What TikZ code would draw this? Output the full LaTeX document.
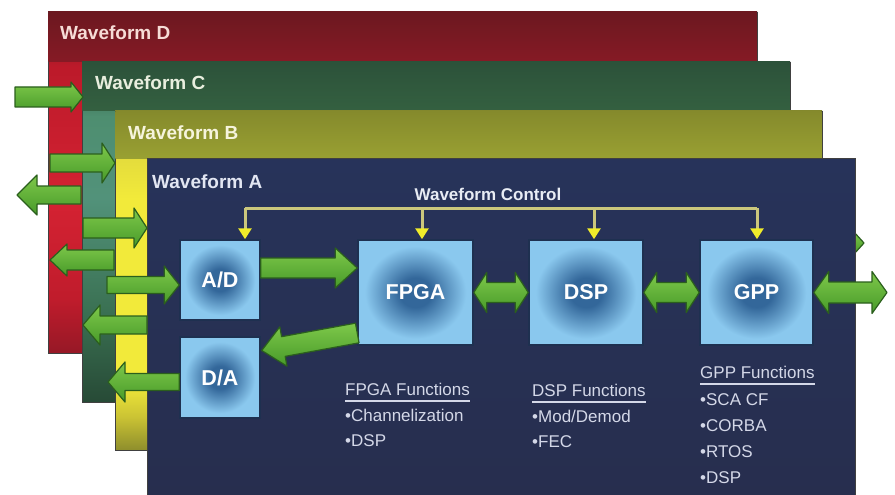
\documentclass[tikz,border=0pt]{standalone}
\usepackage{fontspec}
\setmainfont{Liberation Sans}
\usetikzlibrary{calc,arrows.meta}
\definecolor{boxdark}{HTML}{33679A}
\definecolor{boxlight}{HTML}{8AC8EE}
\definecolor{blkline}{HTML}{1E3050}
\definecolor{grtop}{HTML}{7EC84A}
\definecolor{grbot}{HTML}{479A29}
\definecolor{grline}{HTML}{2B5F1D}
\definecolor{busc}{HTML}{CBC77C}
\definecolor{ctrlhead}{HTML}{F0EC2A}
\definecolor{functext}{HTML}{D4D8E8}
% waveform colours
\definecolor{dA}{HTML}{961826}\definecolor{dB}{HTML}{C01C2C}\definecolor{dC}{HTML}{D42232}\definecolor{dD}{HTML}{BC1A2A}\definecolor{dE}{HTML}{6C1820}
\definecolor{cA}{HTML}{274A36}\definecolor{cB}{HTML}{3A7052}\definecolor{cC}{HTML}{52927A}\definecolor{cD}{HTML}{4E8E70}\definecolor{cE}{HTML}{2C523A}
\definecolor{bA}{HTML}{8E8E2C}\definecolor{bB}{HTML}{CCC434}\definecolor{bC}{HTML}{F2EA3A}\definecolor{bD}{HTML}{E4DC3C}\definecolor{bE}{HTML}{858A2C}
\pgfdeclareverticalshading{shD}{100bp}{color(0bp)=(dA); color(25bp)=(dA); color(33bp)=(dB); color(47bp)=(dC); color(67bp)=(dD); color(75bp)=(dE); color(100bp)=(dE)}
\pgfdeclareverticalshading{shC}{100bp}{color(0bp)=(cA); color(25bp)=(cA); color(38bp)=(cB); color(55bp)=(cC); color(67bp)=(cD); color(75bp)=(cE); color(100bp)=(cE)}
\pgfdeclareverticalshading{shB}{100bp}{color(0bp)=(bA); color(25bp)=(bA); color(30bp)=(bB); color(35bp)=(bC); color(62bp)=(bC); color(68bp)=(bD); color(75bp)=(bE); color(100bp)=(bE)}
\pgfdeclareradialshading{boxshade}{\pgfpoint{0bp}{0bp}}{color(0bp)=(boxdark); color(7bp)=(boxdark); color(22bp)=(boxlight); color(50bp)=(boxlight)}
\newcommand{\grarrow}[5]{%
  \coordinate (tmpH) at ($(#2)!#5!(#1)$);
  \path[garrow] ($(#1)!#3!90:(#2)$) -- ($(tmpH)!#3!90:(#2)$) -- ($(tmpH)!#4!90:(#2)$) -- (#2)
    -- ($(tmpH)!#4!-90:(#2)$) -- ($(tmpH)!#3!-90:(#2)$) -- ($(#1)!#3!-90:(#2)$) -- cycle;}
\newcommand{\grdarrow}[5]{%
  \coordinate (tmpA) at ($(#1)!#5!(#2)$);
  \coordinate (tmpB) at ($(#2)!#5!(#1)$);
  \path[garrow] (#1) -- ($(tmpA)!#4!90:(#2)$) -- ($(tmpA)!#3!90:(#2)$) -- ($(tmpB)!#3!90:(#2)$)
    -- ($(tmpB)!#4!90:(#2)$) -- (#2) -- ($(tmpB)!#4!-90:(#2)$) -- ($(tmpB)!#3!-90:(#2)$)
    -- ($(tmpA)!#3!-90:(#2)$) -- ($(tmpA)!#4!-90:(#2)$) -- cycle;}
\tikzset{
  garrow/.style={top color=grtop, bottom color=grbot, draw=grline, line width=1.2pt, line join=round},
  blk/.style={draw=blkline, line width=1.5pt, shading=boxshade, text=white, inner sep=0pt,
    font=\bfseries\fontsize{21.5}{24}\selectfont},
  wflabel/.style={anchor=west, inner sep=0pt, font=\bfseries\fontsize{19}{22}\selectfont},
  functxt/.style={anchor=base west, inner sep=0pt, text=functext, font=\fontsize{17}{20}\selectfont},
  uline/.style={draw=functext, line width=1.1pt},
  busline/.style={draw=busc, line width=3pt},
  wfbox/.style={draw=black!75, line width=0.8pt},
}
\begin{document}
\begin{tikzpicture}[x=1pt,y=-1pt]
\useasboundingbox (0,0) rectangle (895,495);
\fill[white] (0,0) rectangle (895,495);
% Waveform D
\shade[wfbox, shading=shD] (48,12) rectangle (757,353);
\shade[top color={rgb,255:red,108;green,24;blue,32}, bottom color={rgb,255:red,134;green,26;blue,37}] (48.4,12.4) rectangle (756.6,62);
\node[wflabel, text={rgb,255:red,246;green,220;blue,214}] (lD) at (60,33) {Waveform D};
% Waveform C
\shade[wfbox, shading=shC] (82,62) rectangle (790,402);
\shade[top color={rgb,255:red,44;green,82;blue,58}, bottom color={rgb,255:red,52;green,96;blue,64}] (82.4,62.4) rectangle (789.6,111);
\node[wflabel, text={rgb,255:red,232;green,238;blue,222}] (lC) at (95,83) {Waveform C};
% Waveform B
\shade[wfbox, shading=shB] (115,111) rectangle (822,450);
\shade[top color={rgb,255:red,133;green,138;blue,44}, bottom color={rgb,255:red,153;green,160;blue,50}] (115.4,111.4) rectangle (821.6,158);
\node[wflabel, text={rgb,255:red,246;green,244;blue,220}] (lB) at (128,133) {Waveform B};
% hidden arrow tip behind A
\coordinate (g9a) at (830,243); \coordinate (g9b) at (864,243);
\grarrow{g9a}{g9b}{6pt}{11pt}{10pt}
% Waveform A
\shade[wfbox, top color={rgb,255:red,39;green,51;blue,90}, middle color={rgb,255:red,88;green,102;blue,154}, bottom color={rgb,255:red,39;green,46;blue,78}] (147,158) rectangle (855,500);
\node[wflabel, text={rgb,255:red,226;green,230;blue,242}] (lA) at (152,182) {Waveform A};
% blocks
\node[blk, minimum width=80pt, minimum height=80pt] (ad) at (220,280) {A/D};
\node[blk, minimum width=80pt, minimum height=81pt] (da) at (220,377.5) {D/A};
\node[blk, minimum width=115pt, minimum height=105pt] (fpga) at (415.5,292.5) {FPGA};
\node[blk, minimum width=114pt, minimum height=105pt] (dsp) at (586,292.5) {DSP};
\node[blk, minimum width=113pt, minimum height=105pt] (gpp) at (756.5,292.5) {GPP};
% waveform control
\node[inner sep=0pt, text={rgb,255:red,232;green,236;blue,244}, font=\bfseries\fontsize{17}{20}\selectfont] (wc) at (488,194) {Waveform Control};
\coordinate (bus) at (0,208);
\coordinate (cAD) at ($(ad.north)+(25,0)$);
\coordinate (cFP) at ($(fpga.north)+(6.5,0)$);
\coordinate (cDS) at ($(dsp.north)+(8,0)$);
\coordinate (cGP) at ($(gpp.north)+(0.5,0)$);
\draw[busline] (cAD |- bus) -- (cGP |- bus);
\foreach \c in {cAD,cFP,cDS,cGP}
  \draw[busline, -{Triangle[width=13pt,length=11pt,color=ctrlhead]}] (\c |- bus) -- (\c);
% left arrows
\coordinate (g1a) at (15,97);  \coordinate (g1b) at (83,97);
\coordinate (g2a) at (50,163); \coordinate (g2b) at (115,163);
\coordinate (g3a) at (81,195); \coordinate (g3b) at (17,195);
\coordinate (g4a) at (83,228); \coordinate (g4b) at (147,228);
\coordinate (g5a) at (114,260); \coordinate (g5b) at (50,260);
\coordinate (g6a) at (107,285); \coordinate (g6b) at ($(ad.west)+(0,5)$);
\coordinate (g7a) at (147,325); \coordinate (g7b) at (83,325);
\coordinate (g8a) at ($(da.west)+(0,4.5)$); \coordinate (g8b) at (108,382);
\grarrow{g1a}{g1b}{10pt}{15pt}{12pt}
\grarrow{g2a}{g2b}{9pt}{20pt}{13pt}
\grarrow{g3a}{g3b}{9pt}{20pt}{20pt}
\grarrow{g4a}{g4b}{10pt}{20pt}{13pt}
\grarrow{g5a}{g5b}{10pt}{16pt}{17pt}
\grarrow{g6a}{g6b}{8.5pt}{19pt}{15pt}
\grarrow{g7a}{g7b}{9pt}{20pt}{17pt}
\grarrow{g8a}{g8b}{8.5pt}{20pt}{17pt}
% inner arrows
\coordinate (adout) at ($(ad.east)+(0,-12)$);
\coordinate (fpgain) at (fpga.west |- adout);
\grarrow{adout}{fpgain}{10pt}{20pt}{22pt}
\coordinate (fpgaout) at ($(fpga.west)+(0,40.5)$);
\coordinate (dain) at ($(da.east)+(1,-27)$);
\grarrow{fpgaout}{dain}{10pt}{20pt}{22pt}
\grdarrow{fpga.east}{dsp.west}{10pt}{20pt}{13pt}
\grdarrow{dsp.east}{gpp.west}{10pt}{20pt}{13pt}
\coordinate (gout) at (887,292.5);
\grdarrow{gpp.east}{gout}{10.5pt}{21pt}{15pt}
% function lists
\node[functxt] (fh) at (345,395) {FPGA Functions};
\node[functxt] (f1) at (345,421) {•Channelization};
\node[functxt] (f2) at (345,446) {•DSP};
\draw[uline] ([yshift=-6pt]fh.base west) -- ([yshift=-6pt]fh.base east);
\node[functxt] (dh) at (532,396) {DSP Functions};
\node[functxt] (d1) at (532,422) {•Mod/Demod};
\node[functxt] (d2) at (532,447) {•FEC};
\draw[uline] ([yshift=-6pt]dh.base west) -- ([yshift=-6pt]dh.base east);
\node[functxt] (gh) at (700,378) {GPP Functions};
\node[functxt] (g1) at (700,405) {•SCA CF};
\node[functxt] (g2) at (700,431) {•CORBA};
\node[functxt] (g3) at (700,457) {•RTOS};
\node[functxt] (g4) at (700,483) {•DSP};
\draw[uline] ([yshift=-6pt]gh.base west) -- ([yshift=-6pt]gh.base east);
\end{tikzpicture}
\end{document}
